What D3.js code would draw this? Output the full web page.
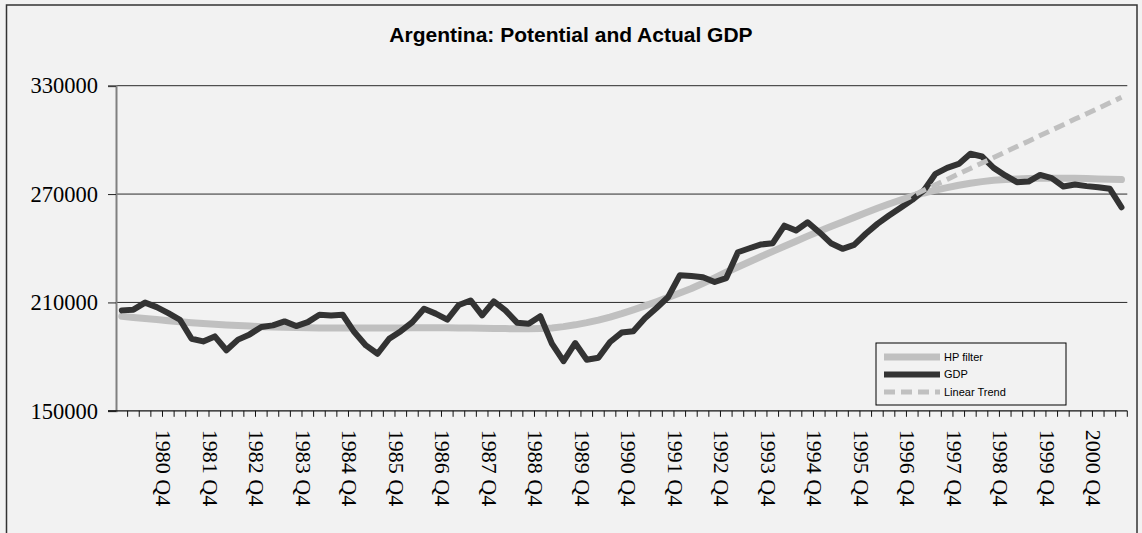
<!DOCTYPE html>
<html>
<head>
<meta charset="utf-8">
<script src="https://cdn.jsdelivr.net/npm/d3@7/dist/d3.min.js"></script>
<style>
  body { margin: 0; background: #f2f2f2; }
  svg { display: block; }
</style>
</head>
<body>
<div class="chart"></div>
<script>
// quarterly categories, 1980 Q1 .. 2001 Q3
const quarters = d3.range(87).map(i => `${1980 + Math.floor(i / 4)} Q${i % 4 + 1}`)

const tickLabels = ["1980 Q4", "1981 Q4", "1982 Q4", "1983 Q4", "1984 Q4", "1985 Q4", "1986 Q4",
  "1987 Q4", "1988 Q4", "1989 Q4", "1990 Q4", "1991 Q4", "1992 Q4", "1993 Q4", "1994 Q4",
  "1995 Q4", "1996 Q4", "1997 Q4", "1998 Q4", "1999 Q4", "2000 Q4"]

const yTicks = [150000, 210000, 270000, 330000]

const gdp = [
  205600, 206000, 209900, 207400, 204100, 200400, 189900, 188400, 191200, 183500,
  189400, 192300, 196400, 197300, 199500, 196900, 199100, 203200, 202800, 203200,
  193600, 186200, 181600, 189900, 194100, 199100, 206500, 203800, 200500, 208600,
  211100, 202800, 210600, 205600, 198800, 198200, 202400, 187200, 177500, 187500,
  178300, 179400, 188100, 193300, 194100, 201300, 206900, 213000, 225000, 224600,
  224000, 221300, 223500, 237800, 240000, 242100, 242800, 252500, 249800, 254400,
  248900, 242800, 239700, 241900, 248000, 253500, 258100, 262400, 266800, 272000,
  281200, 284500, 286700, 292300, 290800, 284500, 280300, 276600, 276900, 280600,
  278800, 274200, 275300, 274400, 273800, 272900, 262700
]

const hpFilter = [
  202300, 201700, 201100, 200500, 199900, 199300, 198800, 198300, 197900, 197500,
  197200, 196900, 196600, 196400, 196200, 196100, 196000, 195900, 195900, 195800,
  195800, 195800, 195800, 195900, 195900, 196000, 196000, 196000, 196000, 195900,
  195800, 195700, 195600, 195500, 195400, 195400, 195600, 195900, 196600, 197600,
  198800, 200200, 201900, 203800, 205900, 208100, 210400, 212800, 215200, 217700,
  220600, 223600, 226700, 229600, 232500, 235400, 238300, 241100, 243900, 246700,
  249400, 252000, 254600, 257100, 259600, 262100, 264500, 266700, 268800, 270600,
  272200, 273600, 274900, 276000, 276900, 277600, 278100, 278400, 278600, 278700,
  278800, 278800, 278700, 278600, 278400, 278200, 278000
]

// linear trend, 1996 Q4 onwards
const trendStart = "1996 Q4"
const linearTrend = [
  266000, 269000, 272100, 275100, 278100, 281200, 284200, 287200, 290200, 293300,
  296300, 299300, 302400, 305400, 308400, 311500, 314500, 317500, 320500, 323600
]

const width = 1142
const height = 533

const svg = d3.select(".chart")
  .append("svg")
  .attr("width", width)
  .attr("height", height)

svg.append("rect")
  .attr("x", 6.5)
  .attr("y", 5)
  .attr("width", 1130.5)
  .attr("height", 540)
  .attr("fill", "#f2f2f2")
  .attr("stroke", "#333")
  .attr("stroke-width", 1.5)

svg.append("text")
  .attr("x", 571)
  .attr("y", 42)
  .attr("text-anchor", "middle")
  .style("font-family", "'Liberation Sans', Arial, sans-serif")
  .style("font-weight", "bold")
  .style("font-size", "21px")
  .text("Argentina: Potential and Actual GDP")

const x = d3.scaleBand()
  .domain(quarters)
  .range([116, 1127.3])

const y = d3.scaleLinear()
  .domain([150000, 330000])
  .range([410.8, 85.7])

const cx = q => x(q) + x.bandwidth() / 2

// gridlines
svg.append("g")
  .selectAll("line")
  .data(yTicks.slice(1))
  .join("line")
  .attr("x1", 116)
  .attr("x2", 1127.3)
  .attr("y1", d => y(d))
  .attr("y2", d => y(d))
  .attr("stroke", "#2b2b2b")
  .attr("stroke-width", 1)

// y axis
const yAxis = svg.append("g")
  .attr("transform", "translate(116,0)")
  .call(d3.axisLeft(y).tickValues(yTicks).tickSize(8).tickFormat(d3.format("d")))
yAxis.select(".domain").attr("stroke", "#808080").attr("stroke-width", 2)
yAxis.selectAll(".tick line").attr("stroke", "#222")
yAxis.selectAll("text")
  .attr("x", -18)
  .style("font-family", "'Liberation Serif', 'Times New Roman', serif")
  .style("font-size", "22.5px")
  .attr("fill", "#000")

// x axis: ticks between categories
const xAxis = svg.append("g")
  .attr("transform", "translate(0,410.8)")
xAxis.append("line")
  .attr("x1", 108)
  .attr("x2", 1127.3)
  .attr("stroke", "#111")
  .attr("stroke-width", 1.2)
xAxis.selectAll(".qtick")
  .data(quarters)
  .join("line")
  .attr("class", "qtick")
  .attr("x1", d => x(d) + x.bandwidth())
  .attr("x2", d => x(d) + x.bandwidth())
  .attr("y1", 0)
  .attr("y2", 6)
  .attr("stroke", "#111")
xAxis.selectAll(".qlabel")
  .data(tickLabels)
  .join("text")
  .attr("class", "qlabel")
  .attr("transform", d => `translate(${x(d) + x.bandwidth() + 1.5},19) rotate(90)`)
  .attr("dy", "0.35em")
  .style("font-family", "'Liberation Serif', 'Times New Roman', serif")
  .style("font-size", "22px")
  .text(d => d)

const line = d3.line()
  .x(d => cx(d.q))
  .y(d => y(d.v))

const hpData = quarters.map((q, i) => ({q, v: hpFilter[i]}))
const gdpData = quarters.map((q, i) => ({q, v: gdp[i]}))
const s = quarters.indexOf(trendStart)
const trendData = linearTrend.map((v, i) => ({q: quarters[s + i], v}))

svg.append("path")
  .datum(hpData)
  .attr("fill", "none")
  .attr("stroke", "#c0c0c0")
  .attr("stroke-width", 7)
  .attr("stroke-linejoin", "round")
  .attr("stroke-linecap", "round")
  .attr("d", line)

svg.append("path")
  .datum(gdpData)
  .attr("fill", "none")
  .attr("stroke", "#333333")
  .attr("stroke-width", 6)
  .attr("stroke-linejoin", "round")
  .attr("stroke-linecap", "round")
  .attr("d", line)

svg.append("path")
  .datum(trendData)
  .attr("fill", "none")
  .attr("stroke", "#c0c0c0")
  .attr("stroke-width", 5)
  .attr("stroke-dasharray", "11,6")
  .attr("d", line)

// legend
const legendItems = [
  {name: "HP filter", color: "#c0c0c0", w: 7, dash: null},
  {name: "GDP", color: "#333333", w: 6, dash: null},
  {name: "Linear Trend", color: "#c0c0c0", w: 5, dash: "11,6"}
]
const legend = svg.append("g")
  .attr("transform", "translate(876,343)")
legend.append("rect")
  .attr("width", 190)
  .attr("height", 62)
  .attr("fill", "#f2f2f2")
  .attr("stroke", "#000")
  .attr("stroke-width", 1)
const li = legend.selectAll(".item")
  .data(legendItems)
  .join("g")
  .attr("class", "item")
  .attr("transform", (d, i) => `translate(0,${14 + i * 17.5})`)
li.append("line")
  .attr("x1", 8)
  .attr("x2", 64)
  .attr("stroke", d => d.color)
  .attr("stroke-width", d => d.w)
  .attr("stroke-dasharray", d => d.dash)
li.append("text")
  .attr("x", 68)
  .attr("dy", "0.35em")
  .style("font-family", "'Liberation Sans', Arial, sans-serif")
  .style("font-size", "11px")
  .text(d => d.name)
</script>
</body>
</html>
